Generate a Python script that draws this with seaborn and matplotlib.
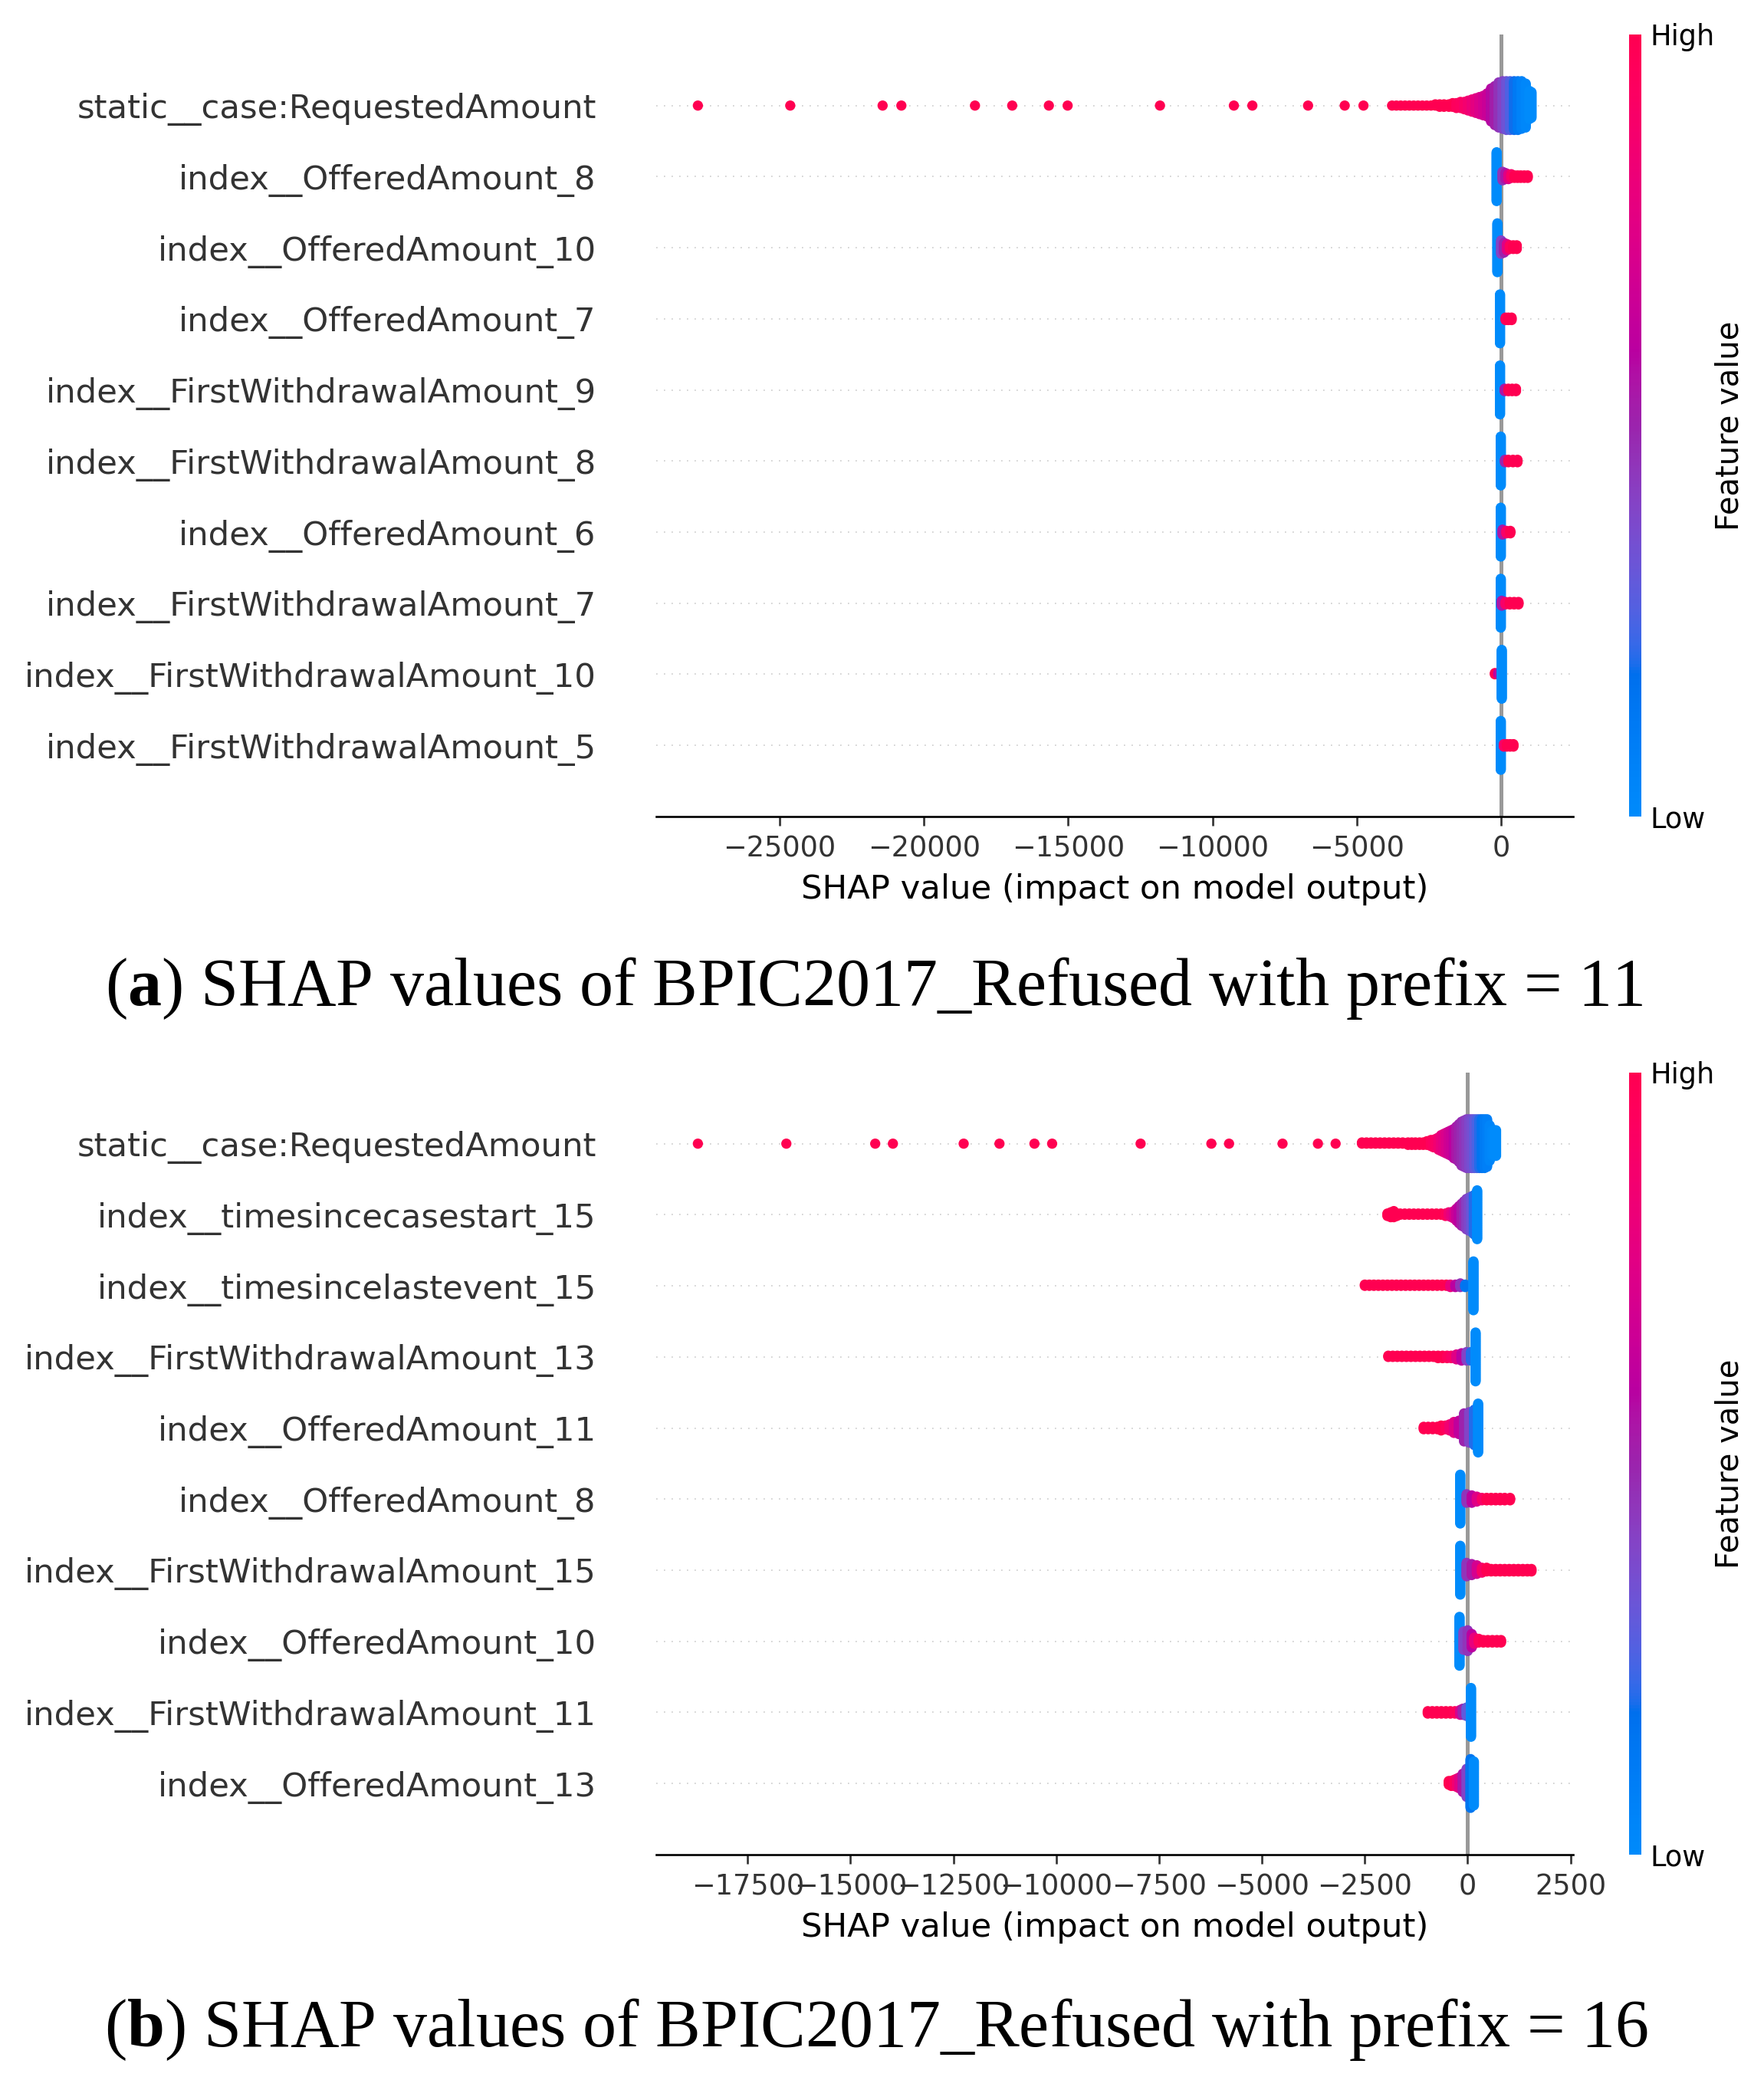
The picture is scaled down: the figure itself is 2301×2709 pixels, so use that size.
import numpy as np
import pandas as pd
import matplotlib
matplotlib.use("Agg")
import matplotlib.pyplot as plt
from matplotlib.colors import LinearSegmentedColormap, Normalize
from matplotlib.cm import ScalarMappable
import seaborn as sns

# Each feature row is a list of (shap value, number of stacked points, feature value 0=low .. 1=high)

# (a) prefix = 11
features_a = [
    "static__case:RequestedAmount",
    "index__OfferedAmount_8",
    "index__OfferedAmount_10",
    "index__OfferedAmount_7",
    "index__FirstWithdrawalAmount_9",
    "index__FirstWithdrawalAmount_8",
    "index__OfferedAmount_6",
    "index__FirstWithdrawalAmount_7",
    "index__FirstWithdrawalAmount_10",
    "index__FirstWithdrawalAmount_5",
]

a_requested = [
    (-27830, 1, 1.0), (-24630, 1, 1.0), (-21430, 1, 1.0), (-20780, 1, 1.0), (-18230, 1, 1.0),
    (-16940, 1, 1.0), (-15670, 1, 1.0), (-15020, 1, 1.0), (-11820, 1, 1.0), (-9260, 1, 1.0),
    (-8620, 1, 1.0), (-6690, 1, 1.0), (-5420, 1, 1.0), (-4770, 1, 1.0),
    (-3780, 1, 1.0), (-3630, 1, 1.0), (-3480, 1, 1.0), (-3330, 1, 1.0), (-3180, 1, 1.0),
    (-3030, 1, 1.0), (-2880, 1, 1.0), (-2730, 1, 1.0), (-2580, 1, 1.0), (-2430, 1, 1.0),
    (-2280, 2, 1.0), (-2130, 3, 1.0), (-1980, 3, 1.0), (-1810, 3, 1.0), (-1680, 4, 1.0),
    (-1550, 5, 0.95), (-1410, 6, 0.93), (-1280, 7, 0.9), (-1150, 9, 0.86), (-1015, 11, 0.82),
    (-880, 13, 0.77), (-750, 15, 0.73), (-620, 17, 0.69), (-485, 20, 0.65), (-350, 28, 0.58),
    (-220, 33, 0.52), (-85, 38, 0.46), (50, 40, 0.4), (180, 41, 0.33), (310, 41, 0.26),
    (450, 41, 0.19), (580, 41, 0.12), (710, 40, 0.06), (850, 37, 0.03), (980, 24, 0.0),
    (1050, 22, 0.0),
]
a_offered8 = [(-156, 41, 0.0), (50, 8, 0.45), (150, 6, 0.55), (250, 5, 0.75), (350, 4, 0.9),
              (460, 3, 1.0), (570, 3, 1.0), (680, 3, 1.0), (800, 3, 1.0), (920, 3, 1.0)]
a_offered10 = [(-130, 41, 0.0), (0, 12, 0.4), (100, 9, 0.5), (200, 6, 0.75), (300, 4, 0.95),
               (420, 4, 1.0), (540, 4, 1.0)]
a_offered7 = [(-40, 41, 0.0), (154, 3, 0.95), (250, 3, 1.0), (362, 3, 1.0)]
a_withdraw9 = [(-40, 41, 0.0), (120, 3, 0.55), (250, 3, 1.0), (380, 3, 1.0), (513, 3, 1.0)]
a_withdraw8 = [(-13, 41, 0.0), (130, 3, 0.5), (250, 3, 1.0), (410, 3, 1.0), (566, 3, 1.0)]
a_offered6 = [(-13, 41, 0.0), (48, 5, 0.55), (180, 3, 0.9), (318, 3, 1.0)]
a_withdraw7 = [(-13, 41, 0.0), (20, 5, 0.55), (150, 3, 0.9), (300, 3, 1.0), (450, 3, 1.0), (600, 3, 1.0)]
a_withdraw10 = [(-218, 2, 1.0), (-100, 2, 0.6), (21, 41, 0.0)]
a_withdraw5 = [(-13, 41, 0.0), (93, 3, 0.9), (200, 3, 1.0), (310, 3, 1.0), (425, 3, 1.0)]

# (b) prefix = 16
features_b = [
    "static__case:RequestedAmount",
    "index__timesincecasestart_15",
    "index__timesincelastevent_15",
    "index__FirstWithdrawalAmount_13",
    "index__OfferedAmount_11",
    "index__OfferedAmount_8",
    "index__FirstWithdrawalAmount_15",
    "index__OfferedAmount_10",
    "index__FirstWithdrawalAmount_11",
    "index__OfferedAmount_13",
]

b_requested = [
    (-18710, 1, 1.0), (-16560, 1, 1.0), (-14400, 1, 1.0), (-13970, 1, 1.0), (-12250, 1, 1.0),
    (-11380, 1, 1.0), (-10530, 1, 1.0), (-10100, 1, 1.0), (-7950, 1, 1.0), (-6230, 1, 1.0),
    (-5800, 1, 1.0), (-4500, 1, 1.0), (-3640, 1, 1.0), (-3210, 1, 1.0),
    (-2570, 2, 1.0), (-2460, 2, 1.0), (-2350, 2, 1.0), (-2240, 2, 1.0), (-2130, 2, 1.0),
    (-2020, 2, 1.0), (-1910, 2, 1.0), (-1800, 2, 1.0), (-1690, 2, 1.0), (-1580, 2, 1.0),
    (-1450, 3, 1.0), (-1360, 3, 1.0), (-1270, 3, 1.0), (-1170, 3, 1.0), (-1080, 3, 1.0),
    (-990, 4, 1.0), (-894, 6, 0.95), (-830, 7, 0.92), (-770, 8, 0.9), (-710, 11, 0.85),
    (-646, 14, 0.8), (-584, 16, 0.76), (-522, 18, 0.72), (-460, 20, 0.68), (-398, 22, 0.65),
    (-336, 25, 0.6), (-274, 28, 0.55), (-212, 32, 0.51), (-150, 37, 0.48), (-88, 39, 0.45),
    (-26, 41, 0.42), (37, 41, 0.38), (99, 41, 0.35), (160, 41, 0.3), (223, 41, 0.25),
    (285, 41, 0.2), (347, 41, 0.15), (410, 41, 0.11), (471, 40, 0.08), (535, 30, 0.04),
    (596, 22, 0.02), (650, 22, 0.0), (689, 22, 0.0),
]
b_casestart = [
    (-1951, 3, 1.0), (-1870, 5, 1.0), (-1796, 6, 1.0), (-1720, 3, 1.0), (-1640, 2, 1.0),
    (-1530, 2, 1.0), (-1420, 2, 1.0), (-1310, 2, 1.0), (-1200, 2, 1.0), (-1090, 2, 1.0),
    (-980, 2, 1.0), (-870, 2, 1.0), (-760, 2, 1.0), (-650, 2, 1.0), (-540, 3, 0.95),
    (-460, 4, 0.85), (-395, 5, 0.78), (-335, 7, 0.72), (-272, 11, 0.65), (-212, 15, 0.6),
    (-150, 19, 0.53), (-90, 22, 0.48), (-30, 26, 0.42), (30, 28, 0.38), (90, 30, 0.32),
    (150, 33, 0.2), (230, 41, 0.0),
]
b_lastevent = [
    (-2500, 2, 1.0), (-2390, 2, 1.0), (-2280, 2, 1.0), (-2170, 2, 1.0), (-2060, 2, 1.0),
    (-1950, 2, 1.0), (-1840, 2, 1.0), (-1730, 2, 1.0), (-1620, 2, 1.0), (-1510, 2, 1.0),
    (-1400, 2, 1.0), (-1290, 2, 1.0), (-1180, 2, 1.0), (-1070, 2, 1.0), (-960, 2, 1.0),
    (-850, 2, 1.0), (-740, 2, 1.0), (-630, 2, 1.0), (-520, 2, 1.0), (-420, 3, 0.8),
    (-300, 3, 0.6), (-180, 4, 0.45), (-60, 3, 0.15), (140, 41, 0.0),
]
b_withdraw13 = [
    (-1930, 2, 1.0), (-1820, 2, 1.0), (-1710, 2, 1.0), (-1600, 2, 1.0), (-1490, 2, 1.0),
    (-1380, 2, 1.0), (-1270, 2, 1.0), (-1160, 2, 1.0), (-1050, 2, 1.0), (-940, 2, 1.0),
    (-830, 2, 1.0), (-720, 3, 1.0), (-610, 3, 1.0), (-500, 3, 0.95), (-400, 3, 0.9),
    (-274, 5, 0.75), (-150, 7, 0.6), (-26, 8, 0.4), (80, 8, 0.2), (192, 41, 0.0),
]
b_offered11 = [
    (-1069, 3, 1.0), (-960, 3, 1.0), (-850, 3, 1.0), (-740, 3, 1.0), (-646, 5, 1.0),
    (-540, 4, 0.95), (-440, 6, 0.85), (-335, 10, 0.75), (-212, 12, 0.62), (-88, 24, 0.5),
    (37, 26, 0.4), (160, 30, 0.2), (254, 41, 0.0),
]
b_offered8 = [(-181, 41, 0.0), (-26, 8, 0.45), (100, 7, 0.6), (223, 5, 0.75), (347, 3, 0.9),
              (460, 3, 1.0), (570, 3, 1.0), (680, 3, 1.0), (790, 3, 1.0), (900, 3, 1.0), (1030, 3, 1.0)]
b_withdraw15 = [
    (-181, 41, 0.0), (-26, 12, 0.45), (99, 10, 0.55), (223, 8, 0.7), (347, 5, 0.9),
    (460, 4, 1.0), (570, 3, 1.0), (680, 3, 1.0), (790, 3, 1.0), (900, 3, 1.0),
    (1010, 3, 1.0), (1120, 3, 1.0), (1230, 3, 1.0), (1340, 3, 1.0), (1450, 3, 1.0), (1550, 3, 1.0),
]
b_offered10 = [(-199, 41, 0.0), (-100, 16, 0.4), (0, 18, 0.45), (99, 12, 0.6), (160, 6, 0.8),
               (270, 4, 0.95), (380, 3, 1.0), (490, 3, 1.0), (600, 3, 1.0), (710, 3, 1.0), (810, 3, 1.0)]
b_withdraw11 = [(-970, 3, 1.0), (-860, 3, 1.0), (-750, 3, 1.0), (-640, 3, 1.0), (-530, 3, 1.0),
                (-420, 3, 1.0), (-310, 3, 0.95), (-181, 5, 0.7), (-119, 6, 0.5), (-26, 8, 0.3),
                (80, 41, 0.0)]
b_offered13 = [(-460, 4, 1.0), (-400, 5, 1.0), (-330, 6, 0.95), (-260, 8, 0.85), (-199, 10, 0.75),
               (-119, 16, 0.55), (-26, 24, 0.4), (70, 41, 0.15), (150, 37, 0.0)]

rows_a = [a_requested, a_offered8, a_offered10, a_offered7, a_withdraw9,
          a_withdraw8, a_offered6, a_withdraw7, a_withdraw10, a_withdraw5]
rows_b = [b_requested, b_casestart, b_lastevent, b_withdraw13, b_offered11,
          b_offered8, b_withdraw15, b_offered10, b_withdraw11, b_offered13]

caption_a = r"($\mathbf{a}$) SHAP values of BPIC2017_Refused with prefix = 11"
caption_b = r"($\mathbf{b}$) SHAP values of BPIC2017_Refused with prefix = 16"


def lch2rgb(l, c, h):
    a, b = c * np.cos(h), c * np.sin(h)
    fy = (l + 16) / 116
    fx, fz = fy + a / 500, fy - b / 200

    def finv(t):
        return t ** 3 if t > 6 / 29 else 3 * (6 / 29) ** 2 * (t - 4 / 29)

    xyz = np.array([0.95047 * finv(fx), finv(fy), 1.08883 * finv(fz)])
    m = np.array([[3.2406, -1.5372, -0.4986],
                  [-0.9689, 1.8758, 0.0415],
                  [0.0557, -0.2040, 1.0570]])
    lin = m @ xyz
    rgb = np.where(lin > 0.0031308, 1.055 * np.abs(lin) ** (1 / 2.4) - 0.055, 12.92 * lin)
    return np.clip(rgb, 0, 1)


def red_blue_cmap():
    # same construction as the shap red_blue colormap
    blue_lch = [54.0, 70.0, 4.6588]
    red_lch = [54.0, 90.0, 0.35470565 + 2 * np.pi]
    l_vals = list(np.linspace(blue_lch[0], 40.0, 50)) + list(np.linspace(40.0, red_lch[0], 50))
    c_vals = np.linspace(blue_lch[1], red_lch[1], 100)
    h_vals = np.linspace(blue_lch[2], red_lch[2], 100)
    colors = [lch2rgb(l, c, h) for l, c, h in zip(l_vals, c_vals, h_vals)]
    return LinearSegmentedColormap.from_list("red_blue", colors)


def beeswarm_frame(rows):
    records = []
    n_rows = len(rows)
    for i, groups in enumerate(rows):
        pos = n_rows - 1 - i
        n_max = max(n for _, n, _ in groups)
        scale = 0.9 * 0.4 / (np.ceil((n_max - 1) / 2) + 1)
        for shap_val, n, feat in groups:
            layer = np.arange(n)
            offs = np.ceil(layer / 2) * ((layer % 2) * 2 - 1) * scale
            for o in offs:
                records.append({"shap": shap_val, "y": pos + o, "value": feat})
    return pd.DataFrame(records)


def draw_panel(fig, ax, cax, names, rows, cmap):
    df = beeswarm_frame(rows)
    n = len(names)
    for pos in range(n):
        ax.axhline(y=pos, color="#cccccc", lw=0.5, dashes=(1, 5), zorder=-1)
    ax.axvline(x=0, color="#999999", zorder=-1)
    sns.scatterplot(data=df, x="shap", y="y", hue="value", palette=cmap, hue_norm=(0, 1),
                    s=16, linewidth=0, legend=False, ax=ax, zorder=3)

    ax.set_ylim(-1, n)
    ax.set_yticks(range(n))
    ax.set_yticklabels(names[::-1], fontsize=13)
    ax.set_ylabel("")
    ax.set_xlabel("SHAP value (impact on model output)", fontsize=13)
    for side in ["top", "right", "left"]:
        ax.spines[side].set_visible(False)
    ax.tick_params("y", length=0, pad=23.5)
    ax.tick_params("x", labelsize=11)
    ax.tick_params(color="#333333", labelcolor="#333333")

    cb = fig.colorbar(ScalarMappable(norm=Normalize(0, 1), cmap=cmap), cax=cax, ticks=[0, 1])
    cb.set_ticklabels(["Low", "High"])
    cb.set_label("Feature value", size=12, labelpad=0)
    cb.ax.tick_params(labelsize=11, length=0)
    cb.outline.set_visible(False)


def main():
    plt.rcParams["mathtext.fontset"] = "custom"
    plt.rcParams["mathtext.rm"] = "Liberation Serif"
    plt.rcParams["mathtext.bf"] = "Liberation Serif:bold"

    cmap = red_blue_cmap()
    fig = plt.figure(figsize=(2301 / 240, 2709 / 240), dpi=240)

    ax_a = fig.add_axes([0.3720, 0.6069, 0.5198, 0.3765])
    cax_a = fig.add_axes([0.9235, 0.6069, 0.0070, 0.3765])
    ax_b = fig.add_axes([0.3720, 0.1071, 0.5198, 0.3765])
    cax_b = fig.add_axes([0.9235, 0.1071, 0.0070, 0.3765])

    draw_panel(fig, ax_a, cax_a, features_a, rows_a, cmap)
    draw_panel(fig, ax_b, cax_b, features_b, rows_b, cmap)

    fig.text(0.4955, 0.5242, caption_a, ha="center", va="center",
             fontsize=26.4, family="Liberation Serif")
    fig.text(0.4970, 0.0229, caption_b, ha="center", va="center",
             fontsize=26.4, family="Liberation Serif")

    fig.savefig("out.png", dpi=240)


if __name__ == "__main__":
    main()
